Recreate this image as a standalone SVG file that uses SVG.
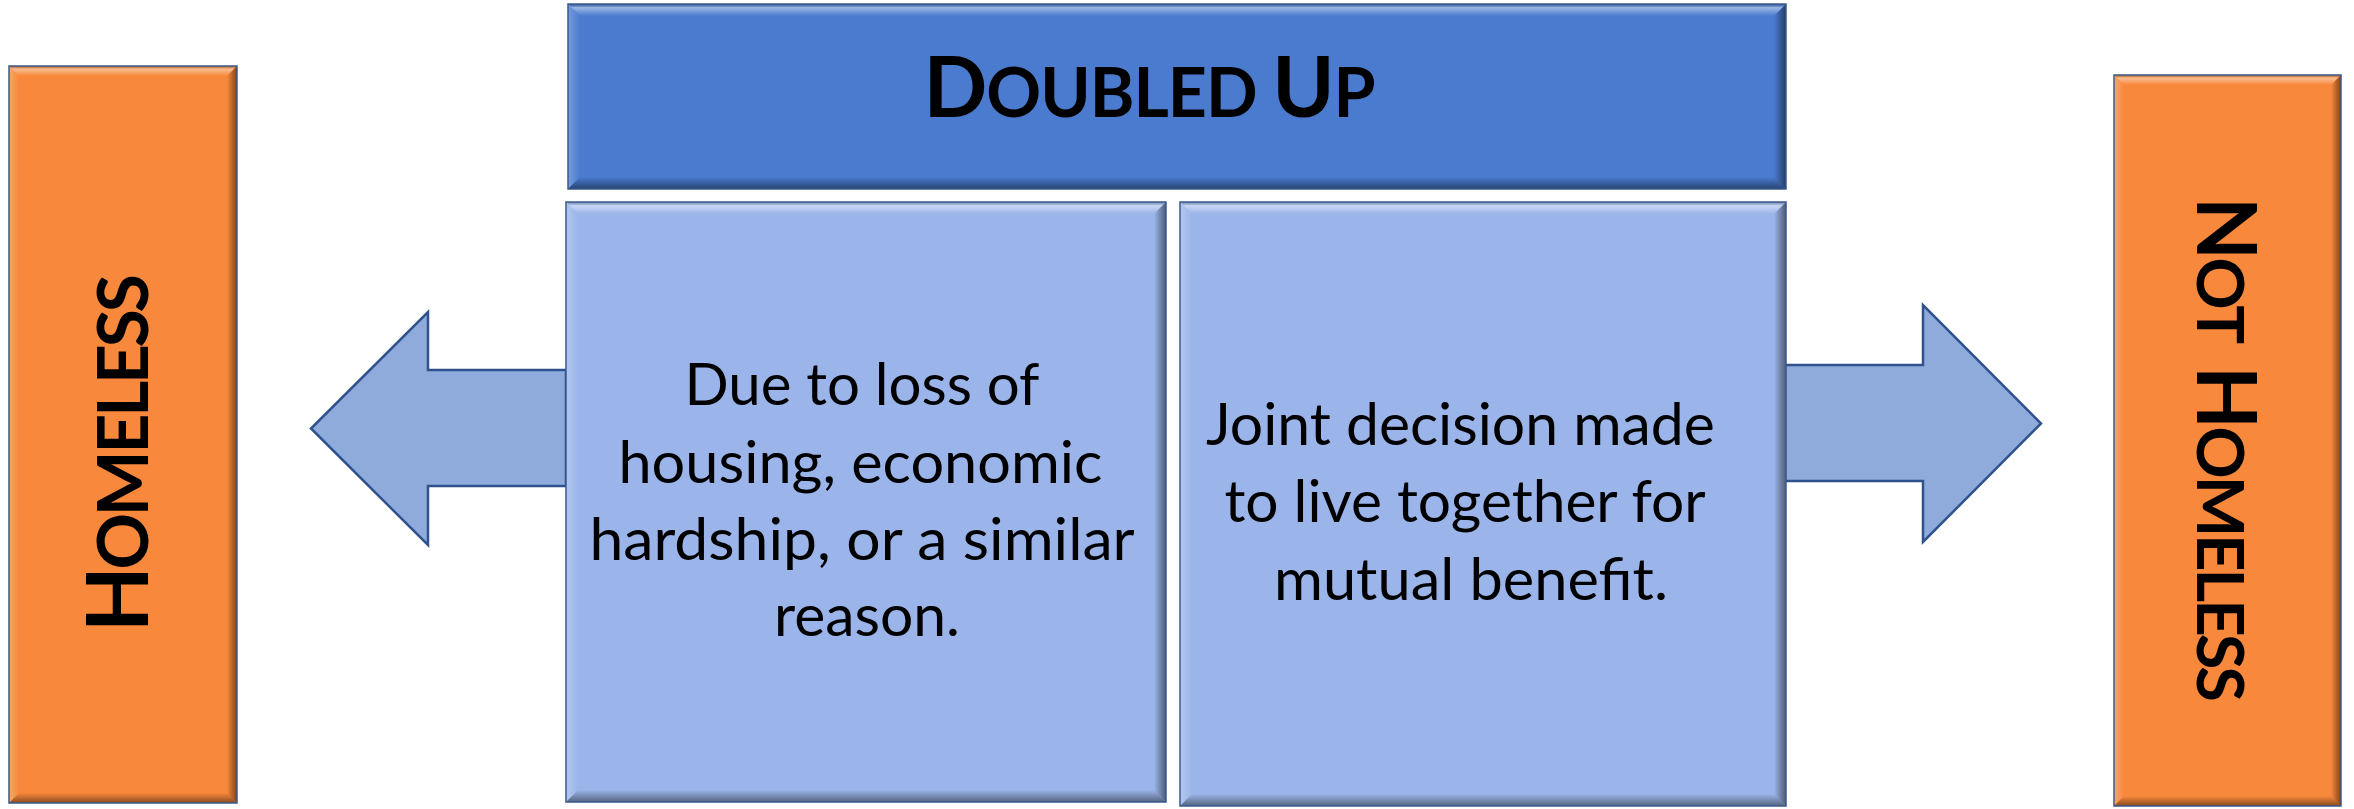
<svg xmlns="http://www.w3.org/2000/svg" width="2354" height="809" viewBox="0 0 2354 809">
<style>
.base{stroke:none}
.title{fill:#4A7BCF}
.light{fill:#9BB5EA}
.orange{fill:#F8883B}
.bt{fill:url(#gTop)}
.bl{fill:url(#gLeft)}
.br{fill:url(#gRight)}
.bb{fill:url(#gBottom)}
.outline{fill:none;stroke:#3A5A8C;stroke-width:1.5}
.arrow{fill:#8FABDB;stroke:#2F528F;stroke-width:2.5;stroke-linejoin:miter}
.body{font-family:Lato,"Liberation Sans",sans-serif;font-size:59px;fill:#000}
.head{font-family:Lato,"Liberation Sans",sans-serif;font-weight:bold;fill:#000}
</style>
<defs>
<linearGradient id="gTop" x1="0" y1="0" x2="0" y2="1">
<stop offset="0" stop-color="#000" stop-opacity="0.15"/>
<stop offset="0.3" stop-color="#fff" stop-opacity="0.45"/>
<stop offset="1" stop-color="#fff" stop-opacity="0"/>
</linearGradient>
<linearGradient id="gLeft" x1="0" y1="0" x2="1" y2="0">
<stop offset="0" stop-color="#fff" stop-opacity="0.25"/>
<stop offset="1" stop-color="#fff" stop-opacity="0"/>
</linearGradient>
<linearGradient id="gRight" x1="0" y1="0" x2="1" y2="0">
<stop offset="0" stop-color="#000" stop-opacity="0"/>
<stop offset="1" stop-color="#000" stop-opacity="0.5"/>
</linearGradient>
<linearGradient id="gBottom" x1="0" y1="0" x2="0" y2="1">
<stop offset="0" stop-color="#000" stop-opacity="0"/>
<stop offset="1" stop-color="#000" stop-opacity="0.45"/>
</linearGradient>
</defs>

<g id="connectors">
<polygon class="arrow" points="566,370 428,370 428,312 311,428.5 428,545 428,486 566,486"/>
<polygon class="arrow" points="1785,365 1923,365 1923,305 2041,423.5 1923,542 1923,481 1785,481"/>
</g>

<g id="homeless">
<rect class="base orange" x="9" y="66" width="228" height="737"/>
<polygon class="bt" points="9,66 237,66 227,76 19,76"/>
<polygon class="bl" points="9,66 19,76 19,793 9,803"/>
<polygon class="br" points="237,66 237,803 227,793 227,76"/>
<polygon class="bb" points="9,803 237,803 227,793 19,793"/>
<rect class="outline" x="9" y="66" width="228" height="737"/>
<g transform="translate(148,455) rotate(-90)">
<text class="head" x="0" y="0" text-anchor="middle" letter-spacing="-3.5"><tspan font-size="86">H</tspan><tspan font-size="70">OMELESS</tspan></text>
</g>
</g>

<g id="doubled-up">
<rect class="base title" x="568" y="4" width="1218" height="185"/>
<polygon class="bt" points="568,4 1786,4 1774,16 580,16"/>
<polygon class="bl" points="568,4 580,16 580,177 568,189"/>
<polygon class="br" points="1786,4 1786,189 1774,177 1774,16"/>
<polygon class="bb" points="568,189 1786,189 1774,177 580,177"/>
<rect class="outline" x="568" y="4" width="1218" height="185"/>
<text class="head" x="1149" y="117" text-anchor="middle" letter-spacing="-1"><tspan font-size="84">D</tspan><tspan font-size="68">OUBLED </tspan><tspan font-size="84">U</tspan><tspan font-size="68">P</tspan></text>
</g>

<g id="due-to-loss">
<rect class="base light" x="566" y="202" width="600" height="600"/>
<polygon class="bt" points="566,202 1166,202 1154,214 578,214"/>
<polygon class="bl" points="566,202 578,214 578,790 566,802"/>
<polygon class="br" points="1166,202 1166,802 1154,790 1154,214"/>
<polygon class="bb" points="566,802 1166,802 1154,790 578,790"/>
<rect class="outline" x="566" y="202" width="600" height="600"/>
<text class="body" text-anchor="middle">
<tspan x="869" y="405" textLength="354" lengthAdjust="spacingAndGlyphs">Due to loss of</tspan>
<tspan x="868" y="483" textLength="484" lengthAdjust="spacingAndGlyphs">housing, economic</tspan>
<tspan x="869" y="560" textLength="544" lengthAdjust="spacingAndGlyphs">hardship, or a similar</tspan>
<tspan x="867" y="636" textLength="186" lengthAdjust="spacingAndGlyphs">reason.</tspan>
</text>
</g>

<g id="joint-decision">
<rect class="base light" x="1180" y="202" width="606" height="604"/>
<polygon class="bt" points="1180,202 1786,202 1774,214 1192,214"/>
<polygon class="bl" points="1180,202 1192,214 1192,794 1180,806"/>
<polygon class="br" points="1786,202 1786,806 1774,794 1774,214"/>
<polygon class="bb" points="1180,806 1786,806 1774,794 1192,794"/>
<rect class="outline" x="1180" y="202" width="606" height="604"/>
<text class="body" text-anchor="middle">
<tspan x="1468" y="445" textLength="509" lengthAdjust="spacingAndGlyphs">Joint decision made</tspan>
<tspan x="1472" y="522" textLength="480" lengthAdjust="spacingAndGlyphs">to live together for</tspan>
<tspan x="1471" y="600" textLength="394" lengthAdjust="spacingAndGlyphs">mutual benefit.</tspan>
</text>
</g>

<g id="not-homeless">
<rect class="base orange" x="2114" y="75" width="227" height="731"/>
<polygon class="bt" points="2114,75 2341,75 2331,85 2124,85"/>
<polygon class="bl" points="2114,75 2124,85 2124,796 2114,806"/>
<polygon class="br" points="2341,75 2341,806 2331,796 2331,85"/>
<polygon class="bb" points="2114,806 2341,806 2331,796 2124,796"/>
<rect class="outline" x="2114" y="75" width="227" height="731"/>
<g transform="translate(2197,448) rotate(90)">
<text class="head" x="0" y="0" text-anchor="middle" letter-spacing="-3" word-spacing="14"><tspan font-size="82">N</tspan><tspan font-size="65">OT </tspan><tspan font-size="82">H</tspan><tspan font-size="65">OMELESS</tspan></text>
</g>
</g>
</svg>
